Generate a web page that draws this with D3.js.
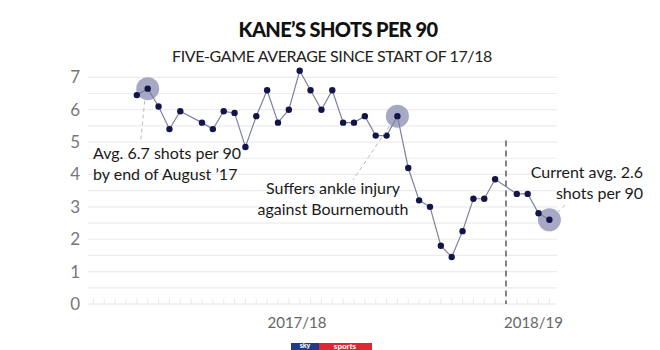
<!DOCTYPE html>
<html>
<head>
<meta charset="utf-8">
<script src="https://cdn.jsdelivr.net/npm/d3@7"></script>
<style>
  body { margin: 0; background: #fff; }
  svg text { font-family: "Lato", "Open Sans", sans-serif; }
</style>
</head>
<body>
<div id="chart"></div>
<script>

// game number (x position) of every five-game average
var games = [5, 6, 7, 8, 9, 11, 12, 13, 14, 15, 16, 17, 18, 19, 20, 21, 22, 23, 24, 25,
             26, 27, 28, 29, 30, 31, 32, 33, 34, 35, 36, 37, 38, 40, 41, 42, 43];
// shots per 90, five-game average
var shots = [6.45, 6.65, 6.1, 5.4, 5.95, 5.6, 5.4, 5.95, 5.9, 4.85, 5.8, 6.6, 5.6, 6.0, 7.2, 6.6, 6.0, 6.6, 5.6, 5.6,
             5.8, 5.2, 5.2, 5.8, 4.2, 3.2, 3.0, 1.8, 1.45, 2.25, 3.25, 3.25, 3.85, 3.4, 3.4, 2.8, 2.6];
var y_ticks = [0, 1, 2, 3, 4, 5, 6, 7];
var grid_values = [0.5, 1, 1.5, 2, 2.5, 3, 3.5, 4, 4.5, 5, 5.5, 6, 6.5, 7];
var season_labels = ["2017/18", "2018/19"];
var season_break = 39;
var highlighted = [6, 29, 43];

var width = 660, height = 350;

var svg = d3.select("#chart").append("svg")
    .attr("width", width)
    .attr("height", height);

// scales
var x = d3.scaleLinear().domain([0.5, 43.7]).range([88, 557]);
var y = d3.scaleLinear().domain([0, 7]).range([304, 77.3]);

// titles
svg.append("text")
    .attr("x", 338).attr("y", 37)
    .attr("text-anchor", "middle")
    .style("font-size", "20px").style("font-weight", "900")
    .style("letter-spacing", "-0.6px")
    .style("fill", "#111")
    .text("KANE\u2019S SHOTS PER 90");

svg.append("text")
    .attr("x", 332).attr("y", 62)
    .attr("text-anchor", "middle")
    .style("font-size", "16px")
    .style("letter-spacing", "-0.4px")
    .style("fill", "#222")
    .text("FIVE-GAME AVERAGE SINCE START OF 17/18");

// grid lines
svg.selectAll(".grid").data(grid_values)
  .enter().append("line")
    .attr("class", "grid")
    .attr("x1", x(0.5)).attr("x2", x(43.7))
    .attr("y1", function(d) { return y(d); })
    .attr("y2", function(d) { return y(d); })
    .attr("stroke", "#ececec").attr("stroke-width", 1.2);

// baseline
svg.append("line")
    .attr("x1", x(0.5)).attr("x2", x(43.7))
    .attr("y1", y(0)).attr("y2", y(0))
    .attr("stroke", "#e6e6e6").attr("stroke-width", 1.2);

// one small tick per game
svg.selectAll(".game-tick").data(d3.range(1, 44))
  .enter().append("line")
    .attr("class", "game-tick")
    .attr("x1", function(d) { return x(d); })
    .attr("x2", function(d) { return x(d); })
    .attr("y1", y(0)).attr("y2", y(0) - 5)
    .attr("stroke", "#e8e8e8").attr("stroke-width", 1);

// y axis labels
svg.selectAll(".y-label").data(y_ticks)
  .enter().append("text")
    .attr("class", "y-label")
    .attr("x", 80)
    .attr("y", function(d) { return y(d) + 6; })
    .attr("text-anchor", "end")
    .style("font-size", "17px")
    .style("fill", "#777")
    .text(function(d) { return d; });

// season labels
svg.append("text")
    .attr("x", (x(0.5) + x(season_break)) / 2).attr("y", 328)
    .attr("text-anchor", "middle")
    .style("font-size", "15px").style("fill", "#666")
    .text(season_labels[0]);

svg.append("text")
    .attr("x", (x(season_break) + x(43.7)) / 2 + 2).attr("y", 328)
    .attr("text-anchor", "middle")
    .style("font-size", "15px").style("fill", "#666")
    .text(season_labels[1]);

// season break
svg.append("line")
    .attr("x1", x(season_break)).attr("x2", x(season_break))
    .attr("y1", y(5.05)).attr("y2", y(0))
    .attr("stroke", "#5a5a66").attr("stroke-width", 1.5)
    .attr("stroke-dasharray", "6,4");

// highlight circles
svg.selectAll(".halo").data(highlighted)
  .enter().append("circle")
    .attr("class", "halo")
    .attr("cx", function(d) { return x(d); })
    .attr("cy", function(d) { return y(shots[games.indexOf(d)]); })
    .attr("r", 11.5)
    .style("fill", "#a6a8c4");

// line
var line = d3.line()
    .x(function(d, i) { return x(games[i]); })
    .y(function(d) { return y(d); });

svg.append("path")
    .datum(shots)
    .attr("d", line)
    .attr("fill", "none")
    .attr("stroke", "#7d829c")
    .attr("stroke-width", 1.2);

// points
svg.selectAll(".dot").data(shots)
  .enter().append("circle")
    .attr("class", "dot")
    .attr("cx", function(d, i) { return x(games[i]); })
    .attr("cy", function(d) { return y(d); })
    .attr("r", 3.2)
    .style("fill", "#13154a");

// annotation leaders
function leader(x1, y1, x2, y2) {
  svg.append("line")
    .attr("x1", x1).attr("y1", y1).attr("x2", x2).attr("y2", y2)
    .attr("stroke", "#bbb").attr("stroke-width", 1)
    .attr("stroke-dasharray", "4,3");
}
leader(x(6) - 3, y(6.65) + 12, x(6) - 7, 141);
leader(x(29) - 8, y(5.8) + 10, 353, 180);
leader(x(43) + 8, y(2.6) - 7, x(43) + 16, y(2.6) - 15);

// annotation text
function note(lines, xpos, ypos, anchor) {
  var t = svg.append("text")
    .attr("x", xpos).attr("y", ypos)
    .attr("text-anchor", anchor)
    .style("font-size", "16px").style("fill", "#1a1a1a");
  lines.forEach(function(s, i) {
    t.append("tspan").attr("x", xpos).attr("dy", i == 0 ? 0 : 21).text(s);
  });
}
note(["Avg. 6.7 shots per 90", "by end of August \u201917"], 93, 159, "start");
note(["Suffers ankle injury", "against Bournemouth"], 333, 194, "middle");
note(["Current avg. 2.6", "shots per 90"], 643, 178, "end");

// sky sports logo (cut off at bottom, as in the original)
svg.append("rect").attr("x", 291).attr("y", 343).attr("width", 28).attr("height", 14).style("fill", "#1f3b8c");
svg.append("rect").attr("x", 319).attr("y", 343).attr("width", 53).attr("height", 14).style("fill", "#e2262f");
svg.append("text").attr("x", 305).attr("y", 347.5).attr("text-anchor", "middle")
    .style("font-size", "7px").style("font-weight", "900").style("fill", "#fff").text("sky");
svg.append("text").attr("x", 345).attr("y", 348.5).attr("text-anchor", "middle")
    .style("font-size", "8px").style("font-weight", "900").style("fill", "#fff").text("sports");

</script>
</body>
</html>
